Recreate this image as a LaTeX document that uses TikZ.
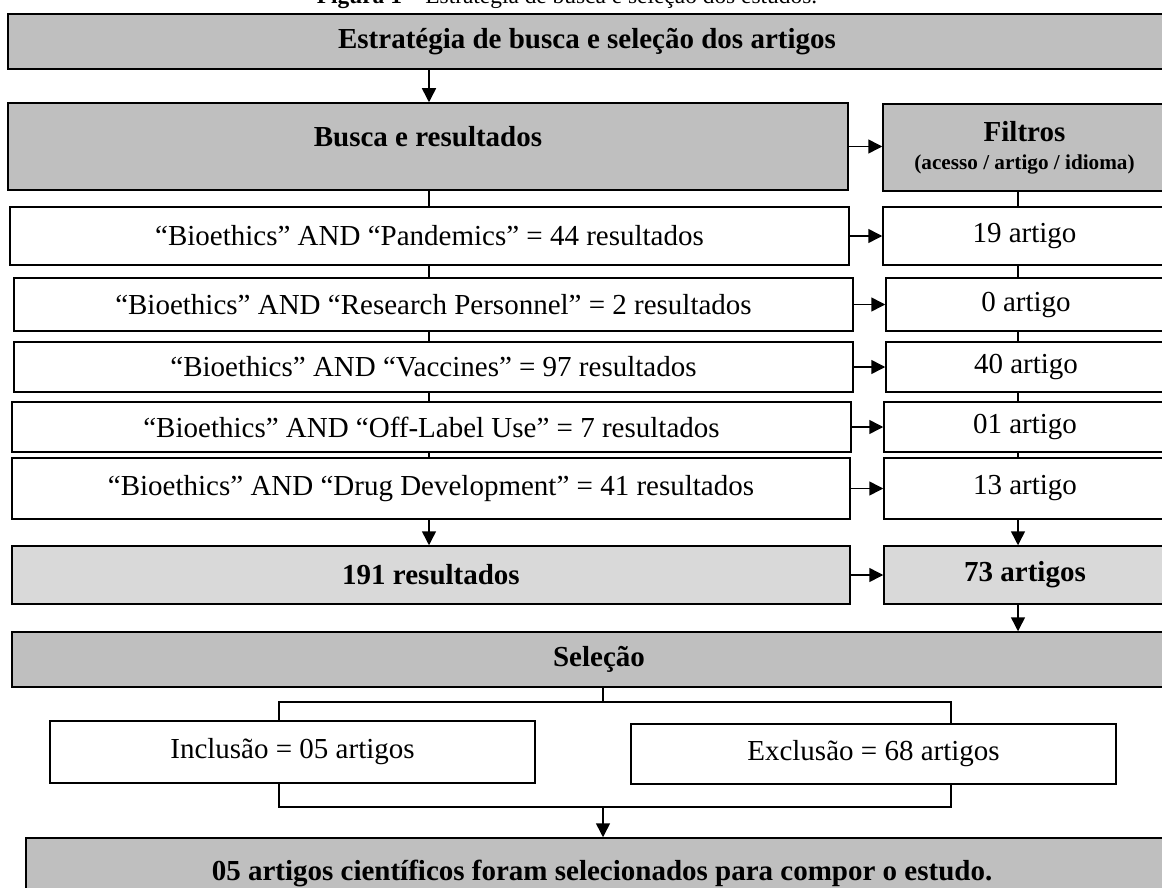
\documentclass[tikz,border=0pt]{standalone}
\usepackage{fontspec}
\setmainfont{Liberation Serif}
\usepackage{tikz}
\usetikzlibrary{arrows.meta,positioning}
\definecolor{boxgray}{RGB}{191,191,191}
\definecolor{boxlight}{RGB}{217,217,217}
\tikzset{box/.style={draw, line width=0.75pt, inner sep=0pt, fill=white,
                     font=\fontsize{14.5}{17}\selectfont},
         head/.style={box, fill=boxgray, font=\fontsize{14.5}{17}\selectfont\bfseries},
         total/.style={box, fill=boxlight, font=\fontsize{14.5}{17}\selectfont\bfseries},
         sz/.style 2 args={minimum width=#1*0.5pt, minimum height=#2*0.5pt},
         arr/.style={-{Triangle[length=7pt,width=7pt]}, line width=0.75pt},
         conn/.style={line width=0.75pt}}

\begin{document}
\begin{tikzpicture}[x=0.5pt, y=-0.5pt]
  \useasboundingbox (0,0) rectangle (1162,888);

  \node[anchor=base, font=\fontsize{11.7}{14}\selectfont] (cap) at (567,4)
    {\textbf{Figura 1} – Estratégia de busca e seleção dos estudos.};

  \node[head, sz={1158}{55}] (T) at (587,41.5) {Estratégia de busca e seleção dos artigos};
  \node[head, sz={840}{87}, text height=8pt, text depth=8pt] (B) at (428,146.5) {Busca e resultados};
  \node[head, sz={283}{87}, align=center] (F) at (1024.5,147.5)
    {Filtros\\[-3pt]{\fontsize{10.6}{12}\selectfont(acesso / artigo / idioma)}};

  \node[box, sz={839}{58}] (q1) at (429.5,236) {“Bioethics” AND “Pandemics” = 44 resultados};
  \node[box, sz={839}{53}] (q2) at (433.5,304.5) {“Bioethics” AND “Research Personnel” = 2 resultados};
  \node[box, sz={839}{50}] (q3) at (433.5,367) {“Bioethics” AND “Vaccines” = 97 resultados};
  \node[box, sz={839}{50}] (q4) at (431.5,427) {“Bioethics” AND “Off-Label Use” = 7 resultados};
  \node[box, sz={838}{61}] (q5) at (431,488.5) {“Bioethics” AND “Drug Development” = 41 resultados};

  \node[box, sz={283}{58}] (f1) at (1024.5,236) {19 artigo};
  \node[box, sz={280}{53}] (f2) at (1026,304.5) {0 artigo};
  \node[box, sz={280}{50}] (f3) at (1026,367) {40 artigo};
  \node[box, sz={282}{50}] (f4) at (1025,427) {01 artigo};
  \node[box, sz={282}{61}] (f5) at (1025,488.5) {13 artigo};

  \node[total, sz={838}{58}] (R) at (431,575) {191 resultados};
  \node[total, sz={282}{58}] (S) at (1025,575) {73 artigos};

  \node[head, sz={1174}{55}] (Sel) at (599,659.5) {Seleção};
  \node[box, sz={485}{62}] (Inc) at (292.5,752) {Inclusão = 05 artigos};
  \node[box, sz={485}{60}] (Exc) at (873.5,754) {Exclusão = 68 artigos};
  \node[head, sz={1152}{70}] (Fin) at (602,873) {05 artigos científicos foram selecionados para compor o estudo.};

  % column lines
  \coordinate (lc) at (429,0);
  \coordinate (rc) at (1018,0);
  \draw[arr] (T.south -| lc) -- (B.north -| lc);
  \draw[conn] (B.south -| lc) -- (q1.north -| lc);
  \draw[conn] (q1.south -| lc) -- (q2.north -| lc);
  \draw[conn] (q2.south -| lc) -- (q3.north -| lc);
  \draw[conn] (q3.south -| lc) -- (q4.north -| lc);
  \draw[conn] (q4.south -| lc) -- (q5.north -| lc);
  \draw[arr] (q5.south -| lc) -- (R.north -| lc);

  \draw[conn] (F.south -| rc) -- (f1.north -| rc);
  \draw[conn] (f1.south -| rc) -- (f2.north -| rc);
  \draw[conn] (f2.south -| rc) -- (f3.north -| rc);
  \draw[conn] (f3.south -| rc) -- (f4.north -| rc);
  \draw[conn] (f4.south -| rc) -- (f5.north -| rc);
  \draw[arr] (f5.south -| rc) -- (S.north -| rc);
  \draw[arr] (S.south -| rc) -- (Sel.north -| rc);

  % row arrows
  \draw[arr] (B.east) -- (B.east -| F.west);
  \draw[arr] (q1.east) -- (q1.east -| f1.west);
  \draw[arr] (q2.east) -- (q2.east -| f2.west);
  \draw[arr] (q3.east) -- (q3.east -| f3.west);
  \draw[arr] (q4.east) -- (q4.east -| f4.west);
  \draw[arr] (q5.east) -- (q5.east -| f5.west);
  \draw[arr] (R.east) -- (R.east -| S.west);

  % selection brackets
  \coordinate (m1) at (603,702);
  \coordinate (l1) at (279,702);
  \coordinate (r1) at (951,702);
  \coordinate (m2) at (603,807);
  \coordinate (l2) at (279,807);
  \coordinate (r2) at (951,807);
  \draw[conn] (Sel.south -| m1) -- (m1);
  \draw[conn] (Inc.north -| l1) -- (l1) -- (r1) -- (Exc.north -| r1);
  \draw[conn] (Inc.south -| l2) -- (l2) -- (r2) -- (Exc.south -| r2);
  \draw[arr] (m2) -- (Fin.north -| m2);

\end{tikzpicture}
\end{document}
